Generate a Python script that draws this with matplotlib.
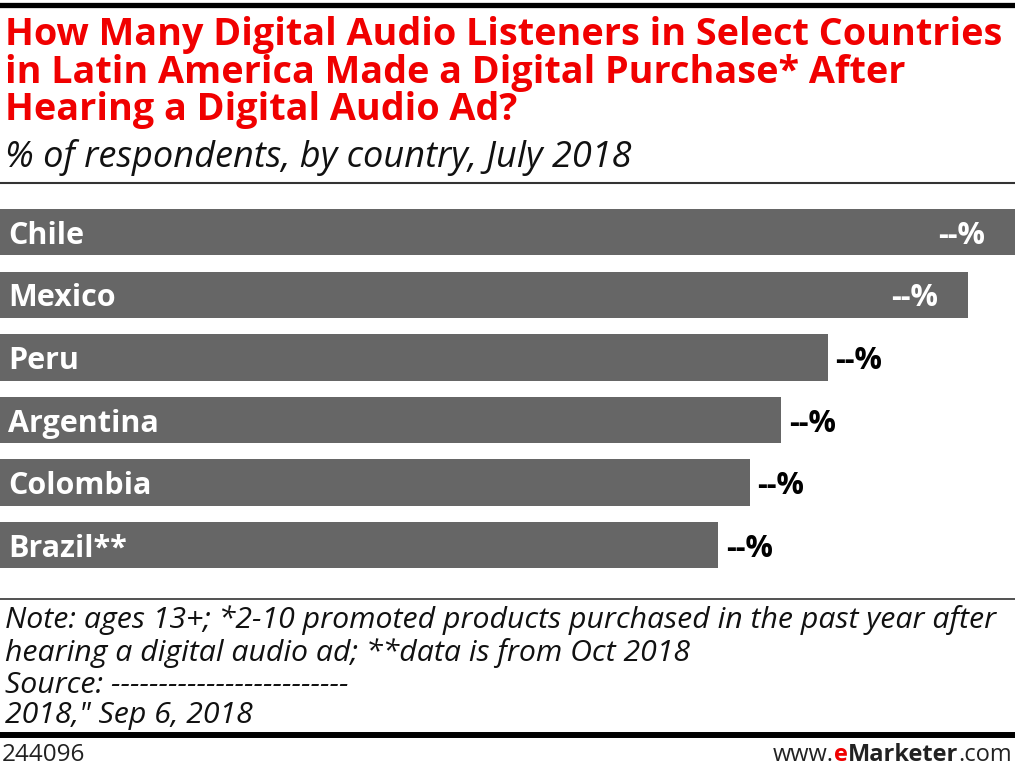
import matplotlib
matplotlib.use("Agg")
from matplotlib import pyplot as plt

countries = ["Chile", "Mexico", "Peru", "Argentina", "Colombia", "Brazil**"]
values = [65, 62, 53, 50, 48, 46]
value_labels = ["--%", "--%", "--%", "--%", "--%", "--%"]

title_lines = ["How Many Digital Audio Listeners in Select Countries",
               "in Latin America Made a Digital Purchase* After",
               "Hearing a Digital Audio Ad?"]
subtitle = "% of respondents, by country, July 2018"
note_lines = ["Note: ages 13+; *2-10 promoted products purchased in the past year after",
              "hearing a digital audio ad; **data is from Oct 2018",
              "Source: -------------------------",
              "2018,\" Sep 6, 2018"]

W, H = 1015, 767
plt.rcParams["font.family"] = ["Open Sans", "DejaVu Sans"]
fig = plt.figure(figsize=(W / 100, H / 100), dpi=100)


def fy(py):
    return 1 - py / H


# bars axis
ax = fig.add_axes([0, fy(576.5), 1, (576.5 - 201) / H])
ypos = list(range(len(countries)))
ax.barh(ypos, values, height=0.74, color="#666666")
ax.set_xlim(0, 65)
ax.set_ylim(len(countries) - 0.5, -0.5)
ax.axis("off")
px = 65 / W
for i, (c, v, lab) in enumerate(zip(countries, values, value_labels)):
    ax.text(8 * px, i, c, color="white", fontsize=22, fontweight="bold",
            va="center_baseline", ha="left")
    if v >= 60:
        ax.text(v - 30 * px, i, lab, color="white", fontsize=22,
                fontweight="bold", va="center_baseline", ha="right")
    else:
        ax.text(v + 8 * px, i, lab, color="black", fontsize=22,
                fontweight="bold", va="center_baseline", ha="left")

# header
fig.add_artist(plt.Line2D([0, 1], [fy(4.5), fy(4.5)], color="black", lw=3.8))
for line, base in zip(title_lines, [45, 83, 120]):
    fig.text(5 / W, fy(base), line, color="#f00000", fontsize=27.2,
             fontweight="bold", va="baseline", ha="left")
fig.text(5 / W, fy(167), subtitle, color="#111111", fontsize=26,
         style="italic", va="baseline", ha="left")
fig.add_artist(plt.Line2D([0, 1], [fy(183), fy(183)], color="#333333", lw=1.5))

# footer
fig.add_artist(plt.Line2D([0, 1], [fy(599), fy(599)], color="#333333", lw=1.2))
for line, base in zip(note_lines, [628, 661, 693, 723]):
    fig.text(5 / W, fy(base), line, color="#111111", fontsize=21.8,
             style="italic", va="baseline", ha="left")
fig.add_artist(plt.Line2D([0, 1], [fy(735), fy(735)], color="black", lw=4.3))
fb = 761
fig.text(2 / W, fy(fb), "244096", fontsize=17.5, va="baseline", ha="left",
         color="#222222")
www = fig.text(1 - 3 / W, fy(fb), "www.", fontsize=17, va="baseline",
               ha="right", color="#222222")
t1 = fig.text(1 - 3 / W, fy(fb), ".com", fontsize=17, va="baseline",
              ha="right", color="#222222")
fig.canvas.draw()
r = fig.canvas.get_renderer()
bb = t1.get_window_extent(r)
t2 = fig.text(bb.x0 / W, fy(fb), "Marketer", fontsize=17,
              fontweight="bold", va="baseline", ha="right", color="#222222")
bb2 = t2.get_window_extent(r)
t3 = fig.text(bb2.x0 / W, fy(fb), "e", fontsize=17, fontweight="bold",
              va="baseline", ha="right", color="#f00000")
bb3 = t3.get_window_extent(r)
www.set_position((bb3.x0 / W, fy(fb)))

fig.savefig("out.png", dpi=100)
